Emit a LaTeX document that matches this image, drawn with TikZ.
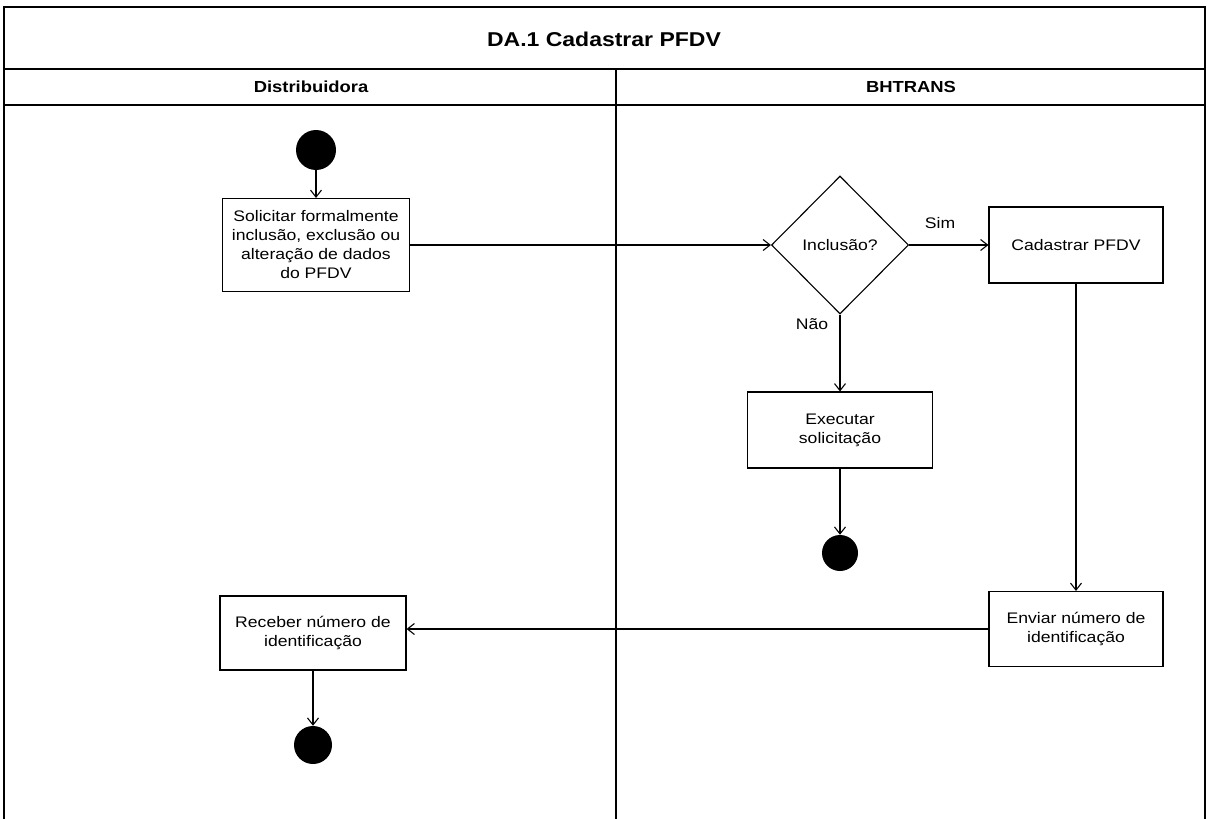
\documentclass[tikz,border=0pt]{standalone}
\usepackage{fontspec}
\setmainfont{Liberation Sans}[FakeStretch=1.15]
\usetikzlibrary{shapes.geometric, arrows.meta}
\usepackage{amsmath}

\tikzset{
    txt/.style = {font=\fontsize{15.3}{19}\selectfont, align=center},
    activity/.style = {draw, rectangle, line width=1.1pt, inner sep=2pt, txt},
    startdot/.style = {circle, fill=black, inner sep=0pt},
    flow/.style = {line width=1.1pt, -{Straight Barb[length=7pt, width=11pt, line width=1.1pt]}}
}

\begin{document}
\begin{tikzpicture}[x=1pt, y=-1pt]
    \useasboundingbox (0,0) rectangle (1208,819);

    % The swimlane frame
        \draw[line width=1.1pt] (4,819) -- (4,7) -- (1205,7) -- (1205,819);
        \draw[line width=1.1pt] (4,69) -- (1205,69);
        \draw[line width=1.1pt] (4,105) -- (1205,105);
        \draw[line width=1.1pt] (616,69) -- (616,819);
        \node[font=\fontsize{20}{24}\selectfont\bfseries] (titulo) at (604,39) {DA.1 Cadastrar PFDV};
        \node[font=\fontsize{16}{19}\selectfont\bfseries] (distribuidora) at (311,87) {Distribuidora};
        \node[font=\fontsize{16}{19}\selectfont\bfseries] (bhtrans) at (911,87) {BHTRANS};

    % Distribuidora lane
        \node[startdot, minimum size=40pt] (inicio) at (316,150) {};
        \node[activity, minimum width=187pt, minimum height=93pt] (solicitar) at (316,245)
            {Solicitar formalmente\\inclusão, exclusão ou\\alteração de dados\\do PFDV};
        \node[activity, minimum width=186pt, minimum height=74pt] (receber) at (313,633)
            {Receber número de\\identificação};
        \node[startdot, minimum size=38pt] (fimB) at (313,745) {};

    % BHTRANS lane
        \node[draw, diamond, line width=1.1pt, inner sep=0pt, minimum width=137pt, minimum height=138pt, txt] (inclusao) at (840,245) {Inclusão?};
        \node[activity, minimum width=174pt, minimum height=76pt] (cadastrar) at (1076,245) {Cadastrar PFDV};
        \node[activity, minimum width=185pt, minimum height=76pt] (executar) at (840,430) {Executar\\solicitação};
        \node[startdot, minimum size=36pt] (fimA) at (840,553) {};
        \node[activity, minimum width=174pt, minimum height=75pt] (enviar) at (1076,629) {Enviar número de\\identificação};
        \node[txt] (sim) at (940,223) {Sim};
        \node[txt] (nao) at (812,324) {Não};

    % Flows
        \draw[flow] (inicio) -- (solicitar);
        \draw[flow] (solicitar) -- (inclusao);
        \draw[flow] (inclusao) -- (cadastrar);
        \draw[flow] (inclusao) -- (executar);
        \draw[flow] (executar) -- (fimA);
        \draw[flow] (cadastrar) -- (enviar);
        \draw[flow] (enviar.west) -- (enviar.west -| receber.east);
        \draw[flow] (receber) -- (fimB);
\end{tikzpicture}
\end{document}
